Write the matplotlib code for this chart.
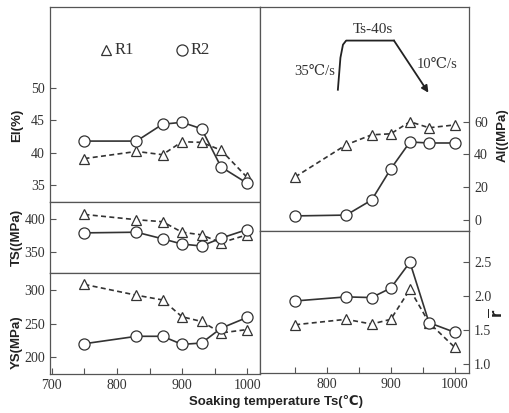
import matplotlib
matplotlib.use("Agg")
import matplotlib.pyplot as plt
import matplotlib.ticker as mticker

# ── Data ─────────────────────────────────────────────────────────────────────
temps = [750, 830, 870, 900, 930, 960, 1000]

el_r1 = [39.1, 40.2, 39.7, 41.7, 41.6, 40.4, 36.2]
el_r2 = [41.8, 41.8, 44.4, 44.7, 43.7, 37.8, 35.3]

ts_r1 = [407, 399, 396, 380, 376, 364, 376]
ts_r2 = [379, 380, 370, 362, 359, 371, 384]

ys_r1 = [308, 292, 285, 260, 253, 236, 241]
ys_r2 = [220, 231, 231, 219, 221, 243, 259]

al_r1 = [26.3, 45.9, 52.0, 52.6, 60.0, 56.3, 58.0]
al_r2 = [2.5, 3.0, 12.2, 31.2, 47.6, 47.0, 47.0]

r_r1 = [1.58, 1.66, 1.59, 1.66, 2.10, 1.61, 1.25]
r_r2 = [1.93, 1.99, 1.98, 2.12, 2.50, 1.61, 1.47]

# heat-treatment schematic (in Al panel data coords)
sketch_x = [817, 821, 825, 830, 905]
sketch_y = [79.5, 99.0, 107.0, 109.5, 109.5]
arrow_end = (959, 77.7)

SERIF = ["Liberation Serif", "DejaVu Serif"]
SANS = ["Liberation Sans", "DejaVu Sans"]
INK = "#333333"
SPINE = "#555555"

plt.rcParams["font.family"] = SERIF
plt.rcParams["axes.edgecolor"] = SPINE
plt.rcParams["axes.linewidth"] = 0.9
plt.rcParams["mathtext.fontset"] = "dejavusans"

fig = plt.figure(figsize=(5.10, 4.13), dpi=100)

ax_el = fig.add_axes([0.098, 0.511, 0.412, 0.472])
ax_ts = fig.add_axes([0.098, 0.339, 0.412, 0.172])
ax_ys = fig.add_axes([0.098, 0.0944, 0.412, 0.2446])
ax_al = fig.add_axes([0.510, 0.4407, 0.410, 0.5424])
ax_r = fig.add_axes([0.510, 0.0969, 0.410, 0.3438])


def draw_pair(ax, y1, y2):
    ax.plot(temps, y1, linestyle=(0, (3, 2)), color=INK, linewidth=1.2,
            marker="^", markersize=7.5, markerfacecolor="white",
            markeredgecolor=INK, markeredgewidth=0.9, zorder=3)
    ax.plot(temps, y2, linestyle="-", color=INK, linewidth=1.2,
            marker="o", markersize=8, markerfacecolor="white",
            markeredgecolor=INK, markeredgewidth=0.9, zorder=4)


draw_pair(ax_el, el_r1, el_r2)
draw_pair(ax_ts, ts_r1, ts_r2)
draw_pair(ax_ys, ys_r1, ys_r2)
draw_pair(ax_al, al_r1, al_r2)
draw_pair(ax_r, r_r1, r_r2)

for ax in (ax_el, ax_ts, ax_ys):
    ax.set_xlim(697, 1020)
for ax in (ax_al, ax_r):
    ax.set_xlim(695, 1023)

ax_el.set_ylim(32.4, 62.5)
ax_ts.set_ylim(318, 426)
ax_ys.set_ylim(175, 325)
ax_al.set_ylim(-6.7, 130)
ax_r.set_ylim(0.87, 2.96)

ax_el.set_yticks([35, 40, 45, 50])
ax_ts.set_yticks([350, 400])
ax_ys.set_yticks([200, 250, 300])
ax_al.set_yticks([0, 20, 40, 60])
ax_r.set_yticks([1.0, 1.5, 2.0, 2.5])
ax_r.yaxis.set_major_formatter(mticker.FormatStrFormatter("%.1f"))

for ax in (ax_el, ax_ts, ax_ys, ax_al, ax_r):
    ax.tick_params(direction="in", length=4, width=0.8, color=SPINE,
                   labelsize=10, labelcolor=INK)

for ax in (ax_el, ax_ts, ax_al):
    ax.set_xticks([])

# bottom axes: labels every 100, extra marks at the 50s
ax_ys.set_xticks([700, 800, 900, 1000])
ax_r.set_xticks([800, 900, 1000])
for ax in (ax_ys, ax_r):
    ax.set_xticks([750, 850, 950], minor=True)
    ax.tick_params(axis="x", which="minor", direction="in", length=4,
                   width=0.8, color=SPINE)

for ax in (ax_al, ax_r):
    ax.yaxis.tick_right()

# axis labels
lab = dict(fontsize=9.5, fontweight="bold", family=SANS, color="#222222")
fig.text(0.033, 0.697, "El(%)", rotation=90, ha="center", va="center", **lab)
fig.text(0.033, 0.424, "TS((MPa)", rotation=90, ha="center", va="center",
         **lab)
fig.text(0.033, 0.172, "YS(MPa)", rotation=90, ha="center", va="center",
         **lab)
fig.text(0.985, 0.673, "Al((MPa)", rotation=90, ha="center", va="center",
         **lab)
fig.text(0.975, 0.242, r"$\overline{\mathbf{r}}$", rotation=90, ha="center",
         va="center", fontsize=10.5, color="#222222")
fig.text(0.541, 0.027, "Soaking temperature Ts(\u2103)", ha="center",
         va="center", **lab)

# legend drawn as markers + text inside El panel
ax_el.plot([783], [55.8], marker="^", markersize=7.5, markerfacecolor="white",
           markeredgecolor=INK, markeredgewidth=0.9, linestyle="none")
ax_el.text(796, 55.8, "R1", fontsize=12, va="center", ha="left", color=INK)
ax_el.plot([900], [55.8], marker="o", markersize=8, markerfacecolor="white",
           markeredgecolor=INK, markeredgewidth=0.9, linestyle="none")
ax_el.text(913, 55.8, "R2", fontsize=12, va="center", ha="left", color=INK)

# heat-treatment schematic
ax_al.plot(sketch_x, sketch_y, color="#222222", linewidth=1.3)
ax_al.annotate("", xy=arrow_end, xytext=(sketch_x[-1], sketch_y[-1]),
               arrowprops=dict(arrowstyle="-|>", color="#222222", lw=1.3,
                               mutation_scale=10, shrinkA=0, shrinkB=0))
ax_al.text(872, 116.5, "Ts-40s", fontsize=11, ha="center", va="center",
           color=INK)
ax_al.text(780, 90.5, "35\u2103/s", fontsize=10.5, ha="center", va="center",
           color=INK)
ax_al.text(972, 95, "10\u2103/s", fontsize=10.5, ha="center", va="center",
           color=INK)

fig.savefig("out.png", dpi=100)
